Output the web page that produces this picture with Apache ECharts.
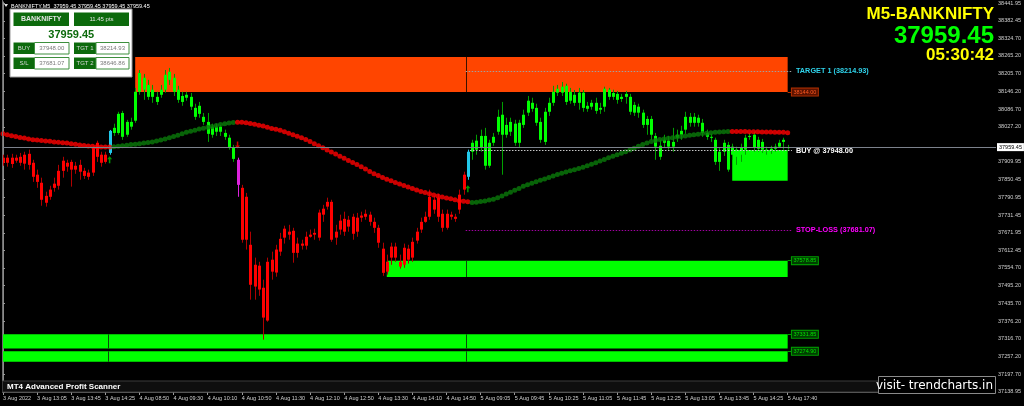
<!DOCTYPE html>
<html><head><meta charset="utf-8">
<script src="https://cdn.jsdelivr.net/npm/echarts@6/dist/echarts.min.js"></script>
<style>html,body{margin:0;padding:0;background:#000;overflow:hidden}#c{width:1024px;height:406px}</style>
</head><body><div id="c"></div>
<script>
// ---------- data ----------
const symbolName = 'BANKNIFTY';
const timeframe = 'M5';
const lastPrice = 37959.45;
const spreadText = '11.45 pts';
const buyPrice = 37948.00;
const target1 = 38214.93;
const stopLoss = 37681.07;
const target2 = 38646.86;
const clockText = '05:30:42';

const timeLabels = ['3 Aug 2022','3 Aug 13:05','3 Aug 13:45','3 Aug 14:25','4 Aug 08:50','4 Aug 09:30','4 Aug 10:10','4 Aug 10:50','4 Aug 11:30','4 Aug 12:10','4 Aug 12:50','4 Aug 13:30','4 Aug 14:10','4 Aug 14:50','5 Aug 09:05','5 Aug 09:45','5 Aug 10:25','5 Aug 11:05','5 Aug 11:45','5 Aug 12:25','5 Aug 13:05','5 Aug 13:45','5 Aug 14:25','5 Aug 17:40'];
const barsPerTimeLabel = 8;

const priceTicks = [38441.95,38382.45,38324.70,38265.20,38205.70,38146.20,38086.70,38027.20,37909.95,37850.45,37790.95,37731.45,37671.95,37612.45,37554.70,37495.20,37435.70,37376.20,37316.70,37257.20,37197.70,37138.95];

// [open, high, low, close]
const ohlc = [
[37924,37934,37897,37907],[37924,37934,37894,37907],[37924,37937,37890,37903],[37924,37934,37907,37914],[37927,37940,37897,37907],
[37934,37944,37884,37904],[37937,37951,37884,37900],[37907,37917,37843,37860],[37867,37884,37823,37843],[37840,37857,37763,37783],
[37796,37810,37760,37773],[37793,37830,37783,37817],[37823,37857,37810,37837],[37830,37900,37817,37880],[37880,37927,37857,37914],
[37907,37917,37877,37894],[37910,37917,37827,37884],[37884,37910,37870,37897],[37900,37917,37850,37877],[37880,37890,37853,37863],
[37860,37884,37850,37874],[37874,37964,37863,37957],[37974,37981,37910,37927],[37934,37944,37894,37907],[37910,37944,37904,37934],
[37940,38017,37934,38014],[38007,38038,37997,38024],[38007,38078,38001,38071],[38074,38081,37984,37994],[38001,38051,37994,38044],
[38044,38058,38018,38028],[38048,38158,38041,38145],[38145,38218,38135,38208],[38192,38205,38118,38152],[38168,38185,38118,38128],
[38128,38168,38108,38152],[38128,38145,38101,38111],[38135,38168,38125,38152],[38152,38218,38142,38202],[38185,38225,38168,38212],
[38192,38205,38131,38145],[38152,38165,38108,38118],[38131,38145,38098,38111],[38125,38145,38115,38135],[38128,38141,38084,38095],
[38091,38105,38051,38061],[38071,38111,38058,38098],[38061,38074,38034,38044],[38044,38074,37977,38004],[38001,38038,37991,38028],
[38028,38038,37997,38011],[38011,38034,37997,38028],[38007,38018,37984,37994],[37991,38001,37951,37957],[37957,37967,37910,37920],
[37917,37924,37793,37833],[37823,37833,37639,37649],[37793,37806,37616,37649],[37632,37676,37448,37498],[37565,37589,37448,37492],
[37562,37575,37461,37482],[37488,37515,37314,37388],[37378,37589,37374,37575],[37582,37609,37515,37542],[37539,37632,37525,37616],
[37609,37672,37595,37652],[37656,37696,37636,37686],[37676,37699,37649,37666],[37679,37689,37572,37605],[37605,37656,37589,37636],
[37636,37649,37616,37629],[37629,37676,37616,37659],[37659,37683,37656,37666],[37666,37686,37649,37672],[37656,37750,37646,37740],
[37733,37766,37709,37753],[37760,37790,37750,37776],[37776,37783,37642,37649],[37656,37699,37632,37676],[37683,37733,37666,37713],
[37719,37743,37662,37676],[37693,37729,37676,37716],[37726,37736,37649,37669],[37676,37739,37659,37723],[37723,37743,37709,37730],
[37726,37750,37716,37736],[37733,37743,37696,37709],[37709,37723,37672,37689],[37689,37699,37622,37639],[37619,37639,37528,37538],
[37542,37599,37532,37575],[37589,37639,37565,37626],[37626,37639,37575,37589],[37575,37599,37552,37559],[37565,37636,37555,37622],
[37619,37632,37569,37582],[37589,37656,37575,37642],[37646,37689,37636,37676],[37683,37723,37672,37709],[37709,37743,37706,37726],
[37726,37817,37716,37793],[37783,37796,37736,37750],[37790,37803,37709,37726],[37736,37750,37676,37689],[37689,37750,37683,37736],
[37733,37743,37716,37726],[37726,37736,37709,37719],[37750,37817,37736,37800],[37817,37877,37800,37867],[37860,37951,37850,37944],
[37944,37984,37917,37974],[37951,38001,37934,37981],[37957,38018,37944,37997],[37997,38024,37884,37897],[37897,37984,37890,37974],
[37974,38007,37964,37994],[38011,38085,38001,38061],[38068,38111,37867,38001],[38001,38058,37991,38034],[38044,38058,37997,38011],
[38038,38051,37964,37974],[37974,38051,37957,38041],[38034,38085,38024,38068],[38075,38131,38064,38115],[38108,38125,38078,38088],
[38091,38105,38031,38041],[38044,38058,37974,37984],[37977,38091,37967,38078],[38078,38125,38064,38108],[38108,38165,38098,38145],
[38142,38168,38131,38155],[38142,38178,38131,38162],[38165,38172,38101,38111],[38115,38158,38105,38145],[38135,38151,38098,38108],
[38108,38158,38085,38142],[38142,38151,38078,38091],[38098,38111,38078,38088],[38095,38118,38085,38108],[38108,38125,38071,38081],
[38085,38108,38071,38091],[38095,38162,38078,38155],[38152,38158,38118,38128],[38128,38152,38118,38141],[38138,38148,38105,38118],
[38121,38138,38111,38128],[38128,38148,38105,38138],[38128,38138,38068,38078],[38101,38111,38064,38075],[38075,38105,38058,38095],
[38075,38085,38024,38034],[38034,38064,38001,38054],[38054,38064,37984,38001],[37997,38007,37917,37961],[37964,37984,37917,37927],
[37974,38001,37957,37984],[37981,37997,37951,37961],[37961,38024,37944,37977],[37991,38018,37977,38001],[38001,38031,37984,38014],
[38018,38078,38004,38061],[38061,38074,38028,38041],[38041,38074,38028,38061],[38058,38068,38028,38041],[38041,38054,37994,38007],
[38007,38018,37984,37994],[37994,38004,37977,37991],[37984,37991,37900,37910],[37910,37957,37880,37944],[37944,37984,37930,37974],
[37967,37977,37877,37884],[37934,37971,37917,37961],[37951,37961,37900,37927],[37934,37971,37910,37957],[37951,38001,37934,37991],
[37994,38007,37984,37997],[38001,38011,37944,37957],[37954,37994,37944,37984],[37977,37987,37940,37951],[37951,37961,37934,37947],
[37947,37964,37937,37954],[37954,37971,37944,37961],[37961,37984,37957,37974],[37977,37991,37951,37984],[37957,37967,37951,37959.45]
];
// candle trend colouring, as runs of [state, count]
const trendRuns = [['down',25],['flipUp',1],['up',29],['flipDown',1],['down',53],['flipUp',1],['up',75]];

// dotted moving average
const ma = [
38004,38001,37998,37995,37992,37990,37987,37984,37983,37982,37980,37979,37977,37976,37974,37973,37971,37969,37967,37965,
37963,37962,37961,37960,37960,37960,37961,37962,37964,37966,37968,37969,37971,37973,37975,37977,37980,37983,37987,37991,
37995,37999,38004,38009,38013,38016,38020,38023,38026,38029,38032,38035,38038,38040,38042,38043,38043,38041,38039,38036,
38033,38030,38026,38022,38019,38016,38011,38006,38001,37996,37991,37985,37978,37971,37964,37957,37950,37943,37936,37929,
37922,37915,37908,37901,37894,37886,37878,37870,37864,37858,37852,37847,37841,37836,37831,37826,37821,37816,37811,37807,
37803,37799,37796,37792,37789,37786,37783,37780,37778,37776,37774,37775,37777,37779,37782,37785,37790,37796,37802,37808,
37815,37821,37828,37833,37838,37843,37848,37853,37858,37863,37868,37872,37876,37880,37884,37888,37892,37897,37902,37907,
37913,37918,37924,37929,37934,37939,37944,37950,37956,37962,37968,37973,37978,37982,37985,37987,37989,37991,37993,37995,
37997,37999,38001,38003,38005,38006,38008,38009,38010,38011,38012,38012,38012,38012,38012,38011,38011,38011,38010,38010,
38010,38009,38009,38009,38008
];
const maRuns = [['down',26],['up',29],['down',55],['up',61],['down',14]];

// arrows: [bar, price, type]
const signals = [[25,37917,'buy'],[55,37967,'sell'],[109,37820,'buy']];

// zones: [fromBar, toBar, top, bottom, kind]
const zones = [
  [31,184,38262,38144,'supply'],
  [90,184,37578.85,37524,'demand'],
  [0,184,37331.85,37284,'demand'],
  [0,184,37274.90,37240,'demand'],
  [171,184,37950,37847,'demand']
];
const levelTags = [[38144.00,'supply'],[37578.85,'demand'],[37331.85,'demand'],[37274.90,'demand']];
const zoneDividerBars = [25, 109];
const signalBar = 109;
const lastBar = 184;

// ---------- styles ----------
const STATE = {
  down:{body:'#ff0000',wick:'#b00000'},
  up:{body:'#00ff00',wick:'#00a000'},
  flipUp:{body:'#22c8ea',wick:'#22c8ea'},
  flipDown:{body:'#dd22dd',wick:'#dd22dd'}
};
const STATE_KEYS = Object.keys(STATE);
const MA_COL = {down:'#ff0000', up:'#0a7a0a'};
const FONT = '"Liberation Sans", Arial, sans-serif';

function expand(runs){const o=[];runs.forEach(([k,n])=>{for(let j=0;j<n;j++)o.push(k);});return o;}
const trend = expand(trendRuns);
const maTrend = expand(maRuns);

const candleData = ohlc.map((d,i)=>[i,d[0],d[1],d[2],d[3],STATE_KEYS.indexOf(trend[i])]);

function renderCandle(params, api){
  const i = api.value(0);
  const pO = api.coord([i,api.value(1)]), pH = api.coord([i,api.value(2)]);
  const pL = api.coord([i,api.value(3)]), pC = api.coord([i,api.value(4)]);
  const st = STATE[STATE_KEYS[api.value(5)]];
  const x = Math.round(pO[0]);
  const top = Math.min(pO[1],pC[1]), bot = Math.max(pO[1],pC[1]);
  return {type:'group', children:[
    {type:'line', shape:{x1:x+0.5,y1:pH[1],x2:x+0.5,y2:pL[1]}, style:{stroke:st.wick,lineWidth:1}},
    {type:'rect', shape:{x:x-1,y:top,width:3,height:Math.max(1,bot-top)}, style:{fill:st.body}}
  ]};
}

const zoneColor = {supply:'#ff4500', demand:'#00ff00'};
const dividerColor = {supply:'#3a1200', demand:'#0a4a0a'};
const tagStyle = {
  supply:{bg:'#5a1200',border:'#b03000',text:'#ff5a20'},
  demand:{bg:'#003d00',border:'#00a000',text:'#00e000'}
};

const arrowUp = 'path://M5 0 L10 5 L6.5 5 L6.5 12 L3.5 12 L3.5 5 L0 5 Z';
const arrowDown = 'path://M5 12 L10 7 L6.5 7 L6.5 0 L3.5 0 L3.5 7 L0 7 Z';

const labelTicks = timeLabels.map((_,k)=>k*barsPerTimeLabel);

// dividers drawn through each zone that spans a divider bar
const dividerLines = [];
zones.forEach(z=>{zoneDividerBars.forEach(b=>{ if(b>z[0] && b<z[1]) dividerLines.push([
  {coord:[b-0.4,z[2]],lineStyle:{color:dividerColor[z[4]],type:'solid',width:1}},{coord:[b-0.4,z[3]]}]);});});

const option = {
  animation:false,
  backgroundColor:'#000',
  grid:{left:2,right:28,top:2,bottom:14,show:false},
  xAxis:{type:'value',min:-0.1,max:232.4,
    axisLine:{show:true,onZero:false,lineStyle:{color:'#6e6e6e'}},
    splitLine:{show:false},
    axisTick:{show:true,customValues:labelTicks,length:3,lineStyle:{color:'#9a9a9a'}},
    axisLabel:{customValues:labelTicks,formatter:v=>timeLabels[Math.round(v/barsPerTimeLabel)]||'',
      color:'#d0d0d0',fontSize:5.5,fontFamily:FONT,align:'left',margin:3}},
  yAxis:{type:'value',position:'right',min:37138.5,max:38446,
    axisLine:{show:true,lineStyle:{color:'#8a8a8a'}},
    splitLine:{show:false},
    axisTick:{show:true,customValues:priceTicks,length:2,lineStyle:{color:'#9a9a9a'}},
    axisLabel:{customValues:priceTicks,formatter:v=>v.toFixed(2),color:'#d0d0d0',fontSize:5.5,fontFamily:FONT,margin:4,showMinLabel:true,showMaxLabel:true}},
  series:[
    {type:'line',data:[],z:1,
      markArea:{silent:true,z:1,data:zones.map(z=>[{coord:[z[0],z[2]],itemStyle:{color:zoneColor[z[4]],opacity:1}},{coord:[z[1],z[3]]}])},
      markLine:{silent:true,symbol:'none',z:1,label:{show:false},data:dividerLines}},
    {type:'custom',renderItem:renderCandle,data:candleData,z:2,clip:true,encode:{x:0,y:[1,2,3,4]}},
    {type:'scatter',z:3,symbolSize:5,
      data:ma.map((v,i)=>({value:[i,v],itemStyle:{color:MA_COL[maTrend[i]]}}))},
    {type:'scatter',z:4,
      data:signals.map(s=>({value:[s[0],s[1]],symbol:s[2]==='buy'?arrowUp:arrowDown,symbolSize:[5,7],
        itemStyle:{color:s[2]==='buy'?'#00c000':'#ff0000'}}))},
    {type:'line',data:[],z:5,
      markLine:{silent:true,symbol:'none',z:5,data:[
        [{yAxis:lastPrice,x:2,lineStyle:{color:'#7c828c',type:'solid',width:1},
          label:{show:true,position:'end',distance:1,formatter:()=>lastPrice.toFixed(2),color:'#000',backgroundColor:'#fff',
            fontSize:5.5,fontFamily:FONT,padding:[1,2]}},{yAxis:lastPrice,x:996}],
        [{coord:[signalBar-0.5,target1],lineStyle:{color:'#a0a0a0',type:[1.5,1.5],width:1},
          label:{show:true,position:'end',distance:4,formatter:'TARGET 1 ('+target1.toFixed(2)+')',color:'#2fd4ec',fontWeight:'bold',fontSize:7.3,fontFamily:FONT}},
         {coord:[lastBar+1,target1]}],
        [{coord:[signalBar+0.5,buyPrice],lineStyle:{color:'#c8c8c8',type:[1.5,1.5],width:1},
          label:{show:true,position:'end',distance:4,formatter:'BUY @ '+buyPrice.toFixed(2),color:'#ffffff',fontWeight:'bold',fontSize:7.3,fontFamily:FONT}},
         {coord:[lastBar+1,buyPrice]}],
        [{coord:[signalBar-0.5,stopLoss],lineStyle:{color:'#a000a0',type:[1.5,1.5],width:1},
          label:{show:true,position:'end',distance:4,formatter:'STOP-LOSS ('+stopLoss.toFixed(2)+')',color:'#ff00ff',fontWeight:'bold',fontSize:7.3,fontFamily:FONT}},
         {coord:[lastBar+1,stopLoss]}]
      ].concat(levelTags.map(t=>{const s=tagStyle[t[1]];return [
        {coord:[lastBar,t[0]],lineStyle:{color:s.border,type:'solid',width:1},
          label:{show:true,position:'end',distance:0,formatter:t[0].toFixed(2),color:s.text,backgroundColor:s.bg,borderColor:s.border,borderWidth:1,
            fontSize:5.5,fontFamily:FONT,padding:[0.5,1.5]}},
        {coord:[lastBar+1,t[0]]}];}))}}
  ],
  graphic:[
    {type:'line',z:100,shape:{x1:2.5,y1:0,x2:2.5,y2:392},style:{stroke:'#6e6e6e',lineWidth:1}},
    {type:'polygon',z:100,shape:{points:[[4,4],[8,4],[6,7]]},style:{fill:'#e0e0e0'}},
    {type:'text',z:100,x:11,y:6,style:{text:symbolName+','+timeframe+'  '+[lastPrice,lastPrice,lastPrice,lastPrice].map(v=>v.toFixed(2)).join(' '),fill:'#ffffff',font:'5.5px '+FONT,textVerticalAlign:'middle'}},
    // info panel
    {type:'rect',z:100,shape:{x:10,y:9,width:122,height:68},style:{fill:'#ffffff',stroke:'#9a9a9a',lineWidth:1}},
    {type:'rect',z:101,shape:{x:13.5,y:12.5,width:55.5,height:13.5},style:{fill:'#0c6a0c'}},
    {type:'text',z:102,x:41.2,y:19.5,style:{text:symbolName,fill:'#e4e4e4',font:'bold 7px '+FONT,textAlign:'center',textVerticalAlign:'middle'}},
    {type:'rect',z:101,shape:{x:74,y:12.5,width:55,height:13.5},style:{fill:'#0c6a0c'}},
    {type:'text',z:102,x:101.5,y:19.5,style:{text:spreadText,fill:'#e4e4e4',font:'6px '+FONT,textAlign:'center',textVerticalAlign:'middle'}},
    {type:'text',z:102,x:71.3,y:34.5,style:{text:lastPrice.toFixed(2),fill:'#0c6a0c',font:'bold 11px '+FONT,textAlign:'center',textVerticalAlign:'middle'}},
    ...[[13.5,42.5,'BUY',buyPrice],[74,42.5,'TGT 1',target1],[13.5,57.5,'S/L',stopLoss],[74,57.5,'TGT 2',target2]].flatMap(r=>{
      const lw = r[0]<50?21:22, vw = r[0]<50?34.5:33;
      return [
        {type:'rect',z:101,shape:{x:r[0],y:r[1],width:lw,height:11.5},style:{fill:'#0c6a0c'}},
        {type:'text',z:102,x:r[0]+lw/2,y:r[1]+6,style:{text:r[2],fill:'#d8d8d8',font:'6px '+FONT,textAlign:'center',textVerticalAlign:'middle'}},
        {type:'rect',z:101,shape:{x:r[0]+lw,y:r[1],width:vw,height:11.5},style:{fill:'#ffffff',stroke:'#3d8f3d',lineWidth:1}},
        {type:'text',z:102,x:r[0]+lw+vw/2,y:r[1]+6,style:{text:r[3].toFixed(2),fill:'#7a7a7a',font:'6px '+FONT,textAlign:'center',textVerticalAlign:'middle'}}
      ];}),
    // top-right
    {type:'text',z:100,x:994,y:14,style:{text:timeframe+'-'+symbolName,fill:'#ffff00',font:'bold 17px '+FONT,textAlign:'right',textVerticalAlign:'middle'}},
    {type:'text',z:100,x:994,y:36,style:{text:lastPrice.toFixed(2),fill:'#00ff00',font:'bold 24px '+FONT,textAlign:'right',textVerticalAlign:'middle'}},
    {type:'text',z:100,x:994,y:55.5,style:{text:clockText,fill:'#ffff00',font:'bold 17px '+FONT,textAlign:'right',textVerticalAlign:'middle'}},
    // bottom bar
    {type:'rect',z:100,shape:{x:2.5,y:381,width:993,height:11},style:{fill:'#0e0e0e',stroke:'#3a3a3a',lineWidth:1}},
    {type:'text',z:101,x:7,y:386.8,style:{text:'MT4 Advanced Profit Scanner',fill:'#ffffff',font:'bold 8px '+FONT,textVerticalAlign:'middle'}},
    {type:'rect',z:101,shape:{x:878.5,y:376.5,width:117,height:17},style:{fill:'#000000',stroke:'#8a8a8a',lineWidth:1}},
    {type:'text',z:102,x:993,y:386,style:{text:'visit- trendcharts.in',fill:'#ffffff',font:'12px "DejaVu Sans", sans-serif',textAlign:'right',textVerticalAlign:'middle'}}
  ]
};
const chart = echarts.init(document.getElementById('c'),null,{renderer:'canvas'});
chart.setOption(option);
</script></body></html>
